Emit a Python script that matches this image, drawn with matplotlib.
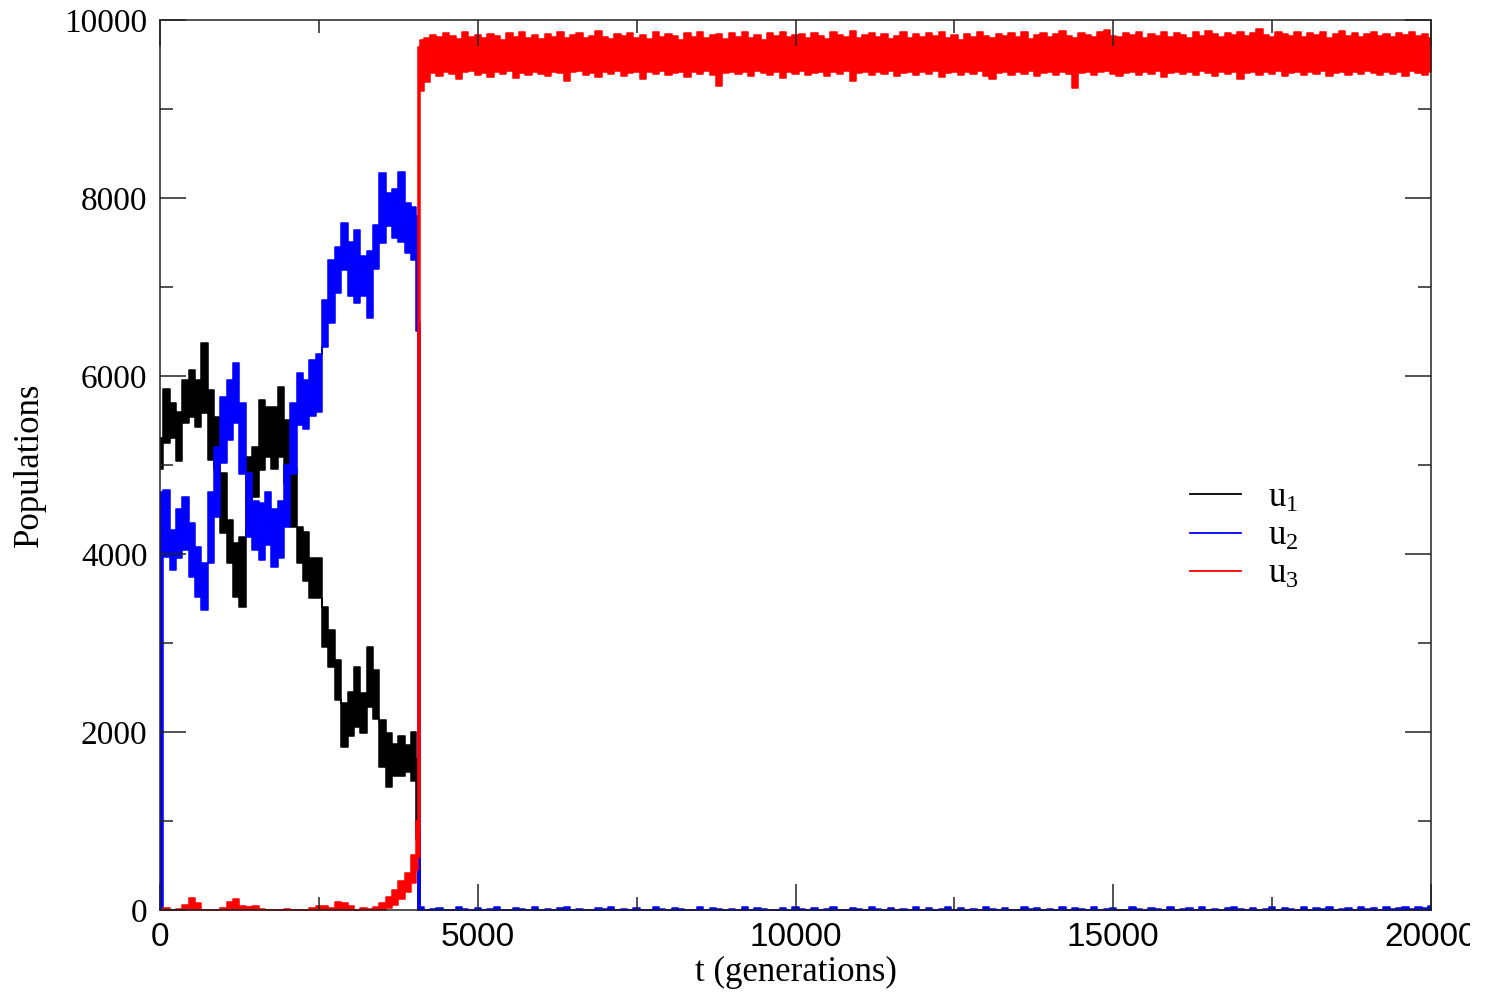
import numpy as np
import matplotlib.pyplot as plt
from matplotlib.ticker import MultipleLocator
from matplotlib.patches import Rectangle

plt.rcParams['font.family'] = ['Liberation Serif', 'DejaVu Serif']
plt.rcParams['mathtext.fontset'] = 'custom'
plt.rcParams['mathtext.rm'] = 'Liberation Serif'
plt.rcParams['mathtext.it'] = 'Liberation Serif'
plt.rcParams['mathtext.default'] = 'regular'

# time grid: every 100 generations before the takeover, two points on the jump, then every 100
t = np.concatenate([np.arange(0, 4001, 100), [4040, 4070], np.arange(4100, 20001, 100)])

# each series is drawn as the band it fills (low / high of the noise at each time)
# u1 (black)
u1_lo = [4950, 5250, 5300, 5050, 5470, 5540, 5430, 5580, 5060, 4940,
         4240, 3900, 3520, 3400, 4270, 4640, 4940, 5090, 4950, 5090,
         4800, 4300, 3900, 3700, 3500, 3500, 2960, 2730, 2360, 1830,
         1950, 2060, 1990, 2280, 2150, 1610, 1380, 1500, 1500, 1550,
         1450, 800, 0] + [0] * 160
u1_hi = [5300, 5850, 5700, 5600, 5950, 6070, 5960, 6370, 5840, 5540,
         4910, 4380, 4120, 4190, 5090, 5200, 5730, 5650, 5650, 5880,
         5500, 4950, 4300, 4250, 3950, 3950, 3400, 3150, 2810, 2330,
         2450, 2730, 2440, 2960, 2700, 2130, 1990, 1870, 1950, 1850,
         2000, 1700, 900] + [0] * 160

# u2 (blue)
u2_lo = [0, 3970, 3820, 3950, 4040, 3740, 3520, 3370, 3900, 4420,
         5020, 5280, 5470, 4900, 4190, 4050, 3930, 4100, 3850, 3950,
         4300, 4900, 5450, 5400, 5550, 5600, 6330, 6600, 6930, 7190,
         6900, 6820, 6900, 6650, 7200, 7490, 7680, 7550, 7500, 7380,
         7300, 6500, 0] + [0] * 160
u2_hi = [4700, 4720, 4270, 4500, 4640, 4350, 4080, 3900, 4700, 5200,
         5760, 5950, 6150, 5700, 4910, 4600, 4570, 4700, 4500, 4600,
         5000, 5700, 6030, 5950, 6180, 6250, 6850, 7300, 7450, 7720,
         7500, 7640, 7350, 7400, 7700, 8280, 8060, 8100, 8290, 7940,
         7900, 7800, 6600] + [
         30, 0, 10, 20, 0, 0, 30, 10, 0, 20, 0, 10, 30, 0, 0, 20, 10, 0, 30, 0,
         10, 0, 20, 30, 0, 10, 0, 0, 20, 10, 30, 0, 10, 0, 20, 0, 0, 30, 10, 0,
         20, 10, 0, 0, 30, 0, 20, 10, 0, 10, 0, 30, 0, 20, 10, 0, 0, 20, 0, 30,
         10, 0, 20, 0, 10, 30, 0, 0, 20, 10, 0, 30, 10, 0, 20, 0, 10, 0, 30, 0,
         20, 0, 10, 30, 0, 20, 0, 10, 0, 30, 10, 0, 20, 0, 0, 30, 10, 20, 0, 10,
         0, 30, 0, 20, 10, 0, 30, 0, 10, 20, 0, 0, 30, 10, 0, 20, 10, 0, 30, 0,
         10, 20, 0, 30, 0, 10, 0, 20, 30, 10, 0, 20, 0, 10, 30, 0, 20, 10, 0, 30,
         0, 20, 10, 30, 0, 10, 20, 0, 30, 10, 20, 0, 30, 10, 20, 30, 10, 30, 20, 40]

# u3 (red)
u3_lo = [0] * 36 + [20, 60, 120, 200, 300, 450, 600] + [
    9200, 9300, 9400, 9370, 9420, 9390, 9340, 9410, 9430, 9380,
    9400, 9360, 9420, 9390, 9430, 9350, 9400, 9380, 9420, 9390,
    9370, 9420, 9400, 9310, 9410, 9430, 9380, 9400, 9360, 9420,
    9390, 9430, 9370, 9400, 9420, 9340, 9410, 9390, 9430, 9380,
    9400, 9420, 9360, 9410, 9390, 9430, 9380, 9260, 9400, 9420,
    9390, 9410, 9370, 9430, 9400, 9380, 9420, 9350, 9410, 9390,
    9430, 9380, 9400, 9420, 9370, 9410, 9390, 9430, 9310, 9400,
    9420, 9380, 9410, 9390, 9430, 9370, 9400, 9420, 9380, 9410,
    9390, 9430, 9360, 9400, 9420, 9380, 9410, 9390, 9430, 9370,
    9340, 9400, 9420, 9380, 9410, 9390, 9430, 9370, 9400, 9420,
    9380, 9410, 9390, 9240, 9400, 9420, 9380, 9410, 9430, 9390,
    9370, 9400, 9420, 9380, 9410, 9390, 9430, 9360, 9400, 9420,
    9390, 9410, 9380, 9430, 9400, 9370, 9420, 9390, 9410, 9340,
    9400, 9420, 9380, 9410, 9390, 9430, 9370, 9400, 9420, 9380,
    9410, 9390, 9430, 9370, 9400, 9420, 9380, 9410, 9390, 9430,
    9400, 9380, 9420, 9390, 9410, 9370, 9430, 9400, 9380, 9420]
u3_hi = [0, 20, 0, 10, 60, 130, 80, 0, 0, 0,
         20, 90, 120, 40, 30, 40, 10, 0, 0, 0,
         15, 0, 0, 0, 20, 40, 50, 20, 90, 80,
         40, 0, 20, 10, 30, 80, 150, 230, 330, 420,
         620, 1000, 9700] + [
    9780, 9800, 9830, 9810, 9850, 9820, 9790, 9860, 9810, 9830,
    9800, 9840, 9820, 9780, 9850, 9810, 9870, 9800, 9830, 9790,
    9840, 9810, 9860, 9800, 9830, 9850, 9800, 9820, 9880, 9810,
    9790, 9840, 9820, 9850, 9800, 9830, 9790, 9860, 9810, 9840,
    9820, 9780, 9850, 9810, 9870, 9800, 9830, 9840, 9790, 9850,
    9810, 9860, 9800, 9830, 9780, 9850, 9820, 9870, 9810, 9830,
    9840, 9800, 9850, 9820, 9790, 9860, 9830, 9810, 9880, 9800,
    9830, 9850, 9810, 9840, 9790, 9820, 9860, 9800, 9840, 9810,
    9850, 9820, 9870, 9800, 9830, 9780, 9840, 9810, 9860, 9820,
    9800, 9840, 9820, 9850, 9810, 9870, 9790, 9830, 9850, 9810,
    9840, 9880, 9820, 9800, 9850, 9830, 9810, 9860, 9890, 9820,
    9810, 9850, 9830, 9870, 9800, 9840, 9820, 9860, 9810, 9850,
    9830, 9800, 9860, 9820, 9880, 9840, 9810, 9850, 9830, 9870,
    9820, 9850, 9900, 9830, 9810, 9860, 9840, 9820, 9870, 9810,
    9850, 9830, 9860, 9800, 9840, 9880, 9820, 9850, 9810, 9840,
    9860, 9820, 9840, 9810, 9850, 9830, 9870, 9820, 9840, 9800]

series = [("$\\mathrm{u}_1$", u1_lo, u1_hi, "black"),
          ("$\\mathrm{u}_2$", u2_lo, u2_hi, "blue"),
          ("$\\mathrm{u}_3$", u3_lo, u3_hi, "red")]

fig = plt.figure(figsize=(14.93, 9.93), dpi=100)
ax = fig.add_axes([0.1072, 0.0836, 0.8513, 0.8963])

for label, lo, hi, c in series:
    ax.fill_between(t, lo, hi, step="mid", facecolor=c, edgecolor=c, linewidth=1.1)
    ax.plot([], [], color=c, linewidth=1.3, label=label)

ax.set_xlim(0, 20000)
ax.set_ylim(0, 10000)
ax.xaxis.set_major_locator(MultipleLocator(5000))
ax.xaxis.set_minor_locator(MultipleLocator(2500))
ax.yaxis.set_major_locator(MultipleLocator(2000))
ax.yaxis.set_minor_locator(MultipleLocator(1000))
ax.tick_params(which="both", direction="in", top=True, right=True, width=1.1, color="#222222")
ax.tick_params(which="major", length=18.5)
ax.tick_params(which="minor", length=9.3)
ax.tick_params(axis="y", labelsize=24, pad=9)
ax.tick_params(axis="x", labelsize=24, pad=9)
for lab in ax.get_xticklabels():
    lab.set_family(["Liberation Sans", "DejaVu Sans"])
for sp in ax.spines.values():
    sp.set_linewidth(1.1)
    sp.set_color("#222222")

ax.set_xlabel("t (generations)", fontsize=25, labelpad=2)
ax.set_ylabel("Populations", fontsize=25, labelpad=13)

ax.legend(loc="center left", bbox_to_anchor=(0.786, 0.42), frameon=False, fontsize=25,
          handlelength=1.45, handletextpad=0.8, labelspacing=0.15)

# the page edge cuts the last x label in the original
fig.add_artist(Rectangle((0.9845, 0), 0.02, 0.08, transform=fig.transFigure,
                         facecolor="white", edgecolor="none", zorder=10))

fig.savefig("out.png", dpi=100)
